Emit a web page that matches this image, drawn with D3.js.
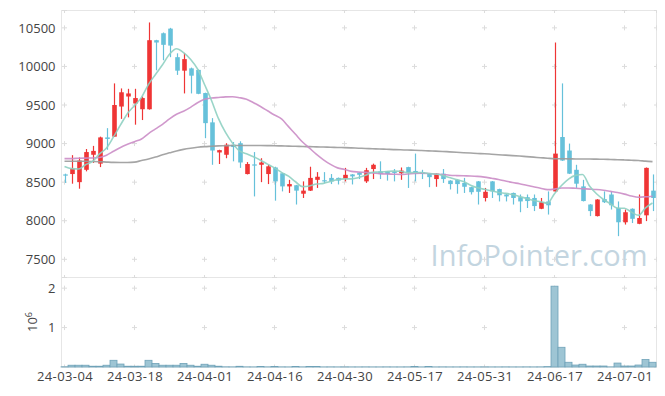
<!DOCTYPE html>
<html>
<head>
<meta charset="utf-8">
<script src="https://cdn.jsdelivr.net/npm/d3@7"></script>
<style>
  body { margin: 0; background: #fff; }
  text { font-family: "Open Sans", "Noto Sans", sans-serif; }
</style>
</head>
<body>
<div id="chart"></div>
<script>
// ==== Data (trading days 24-03-04 -> 24-07-05) ====
const dates = [
  "24-03-04","24-03-05","24-03-06","24-03-07","24-03-08","24-03-11","24-03-12","24-03-13","24-03-14","24-03-15",
  "24-03-18","24-03-19","24-03-20","24-03-21","24-03-22","24-03-25","24-03-26","24-03-27","24-03-28","24-03-29",
  "24-04-01","24-04-02","24-04-03","24-04-04","24-04-05","24-04-08","24-04-09","24-04-11","24-04-12","24-04-15",
  "24-04-16","24-04-17","24-04-18","24-04-19","24-04-22","24-04-23","24-04-24","24-04-25","24-04-26","24-04-29",
  "24-04-30","24-05-02","24-05-03","24-05-07","24-05-08","24-05-09","24-05-10","24-05-13","24-05-14","24-05-16",
  "24-05-17","24-05-20","24-05-21","24-05-22","24-05-23","24-05-24","24-05-27","24-05-28","24-05-29","24-05-30",
  "24-05-31","24-06-03","24-06-04","24-06-05","24-06-07","24-06-10","24-06-11","24-06-12","24-06-13","24-06-14",
  "24-06-17","24-06-18","24-06-19","24-06-20","24-06-21","24-06-24","24-06-25","24-06-26","24-06-27","24-06-28",
  "24-07-01","24-07-02","24-07-03","24-07-04","24-07-05"
];

const opens = [
  8600,8605,8500,8660,8855,8740,9080,9090,9480,9610,
  9520,9445,9445,10340,10430,10490,10120,9945,9975,9955,
  9655,9275,8885,8855,8985,9005,8605,8730,8725,8605,
  8690,8615,8445,8460,8350,8390,8530,8525,8555,8555,
  8545,8600,8625,8510,8670,8640,8640,8635,8615,8695,
  8645,8630,8610,8540,8610,8520,8530,8490,8435,8510,
  8295,8510,8410,8340,8360,8305,8305,8295,8155,8250,
  8380,9085,8910,8660,8445,8210,8060,8280,8340,8165,
  7980,8155,7960,8070,8390
];
const highs = [
  8610,8850,8820,8930,8970,9090,9200,9780,9715,9710,
  9710,9610,10570,10345,10440,10500,10170,10175,9985,9960,
  9660,9330,8920,9005,9020,9030,8760,8890,8810,8725,
  8700,8620,8530,8465,8510,8700,8630,8630,8605,8560,
  8685,8605,8630,8685,8740,8770,8645,8670,8690,8700,
  8870,8660,8615,8615,8670,8525,8535,8555,8440,8515,
  8425,8515,8415,8345,8365,8340,8340,8340,8295,8380,
  10310,9780,9000,8725,8530,8215,8280,8380,8380,8250,
  8145,8160,8340,8690,8600
];
const lows = [
  8490,8480,8415,8640,8750,8695,8920,9085,9320,9340,
  9245,9305,9440,9950,10080,10120,9890,9650,9650,9640,
  9070,8725,8735,8810,8770,8685,8600,8315,8500,8475,
  8260,8380,8360,8210,8295,8385,8425,8485,8475,8470,
  8510,8470,8540,8490,8540,8540,8520,8510,8530,8425,
  8510,8540,8435,8440,8490,8405,8350,8360,8340,8210,
  8250,8295,8250,8250,8210,8110,8165,8125,8150,8080,
  8370,8775,8605,8425,8250,8060,8055,8230,8145,7800,
  7950,7970,7955,7995,8125
];
const closes = [
  8590,8675,8780,8890,8905,9080,9060,9500,9665,9650,
  9590,9590,10340,10310,10280,10270,9945,10095,9880,9645,
  9265,8910,8915,8985,8955,8755,8735,8720,8755,8705,
  8510,8445,8475,8390,8390,8555,8570,8515,8510,8520,
  8595,8575,8595,8655,8725,8605,8605,8625,8650,8625,
  8620,8605,8565,8610,8540,8475,8475,8440,8370,8375,
  8375,8380,8330,8315,8295,8250,8255,8190,8240,8200,
  8870,8780,8610,8480,8255,8125,8275,8240,8200,7980,
  8110,8025,8035,8685,8295
];
const volumes = [
  5000,45000,45000,45000,20000,20000,45000,170000,75000,20000,
  20000,20000,170000,90000,45000,45000,45000,90000,45000,20000,
  70000,45000,20000,4000,3000,18000,3000,2000,15000,3000,
  15000,3000,2000,15000,3000,15000,15000,2000,3000,2000,
  3000,2000,2000,3000,2000,2000,3000,2000,2000,3000,
  15000,2000,15000,2000,3000,2000,2000,3000,2000,2000,
  3000,2000,2000,3000,2000,2000,3000,2000,3000,10000,
  2050000,500000,120000,50000,70000,25000,25000,25000,3000,100000,
  25000,25000,50000,190000,120000
];

// moving averages
const ma5 = [
  8704,8675,8670,8726,8768,8866,8943,9087,9242,9391,
  9493,9599,9767,9896,10022,10158,10229,10180,10094,9967,
  9766,9559,9323,9144,9006,8904,8869,8830,8784,8734,
  8685,8627,8578,8505,8442,8451,8476,8484,8508,8534,
  8542,8543,8559,8588,8629,8631,8637,8643,8642,8622,
  8625,8625,8613,8605,8588,8559,8533,8508,8460,8427,
  8407,8388,8366,8355,8339,8314,8289,8261,8246,8227,
  8351,8456,8540,8588,8599,8450,8349,8275,8219,8164,
  8161,8111,8070,8167,8230
];
const ma20 = [
  8805,8805,8810,8812,8813,8820,8850,8900,8950,8990,
  9025,9060,9130,9190,9250,9320,9380,9420,9470,9530,
  9575,9590,9598,9605,9607,9595,9575,9530,9480,9425,
  9370,9320,9220,9120,9020,8940,8860,8790,8730,8685,
  8665,8640,8632,8627,8620,8610,8605,8603,8600,8605,
  8612,8615,8612,8605,8600,8590,8585,8582,8580,8575,
  8565,8550,8535,8515,8495,8480,8460,8440,8420,8403,
  8410,8425,8425,8420,8415,8410,8405,8395,8380,8365,
  8345,8320,8305,8310,8318
];
const ma60 = [
  8770,8770,8770,8770,8768,8765,8760,8756,8755,8755,
  8760,8780,8800,8825,8855,8880,8905,8925,8940,8952,
  8960,8965,8970,8972,8975,8975,8975,8975,8975,8974,
  8972,8970,8967,8965,8962,8960,8957,8955,8952,8950,
  8947,8944,8940,8937,8933,8930,8926,8922,8919,8916,
  8913,8910,8906,8902,8898,8893,8888,8882,8877,8872,
  8868,8862,8856,8850,8844,8838,8831,8824,8817,8810,
  8804,8803,8802,8801,8800,8800,8798,8796,8794,8791,
  8788,8784,8780,8772,8766
];

const priceTicks = [7500, 8000, 8500, 9000, 9500, 10000, 10500];
const volTicks = [1e6, 2e6];
const dateTickIdx = [0, 10, 20, 30, 40, 50, 60, 70, 80];

// ==== Setup ====
const width = 665, height = 396;
const plotL = 61.5, plotR = 656.5;
const mainTop = 10.5, mainBot = 277.5, volBot = 367;

const upColor = "#ef3535", downColor = "#66c1da";

const svg = d3.select("#chart").append("svg")
  .attr("width", width)
  .attr("height", height);

const x = d3.scaleLinear().domain([-0.43, 84.57]).range([plotL, plotR]);
const y = d3.scaleLinear().domain([7264, 10725]).range([mainBot, mainTop]);
const yv = d3.scaleLinear().domain([0, 2.27e6]).range([volBot, mainBot]);

// frames
svg.append("rect").attr("x", plotL).attr("y", mainTop)
  .attr("width", plotR - plotL).attr("height", mainBot - mainTop)
  .attr("fill", "none").attr("stroke", "#e6e6e6");
svg.append("rect").attr("x", plotL).attr("y", mainBot)
  .attr("width", plotR - plotL).attr("height", volBot - mainBot)
  .attr("fill", "none").attr("stroke", "#e6e6e6");

// little "+" marks where grid lines would cross
function crosses(ys, top, bot) {
  const xs = dateTickIdx.map(i => x(i)).concat([plotR]);
  const g = svg.append("g").attr("stroke", "#dcdcdc").attr("stroke-width", 1);
  xs.forEach(cx => {
    ys.forEach(cy => {
      g.append("line").attr("x1", Math.max(plotL, cx - 2.5)).attr("x2", Math.min(plotR, cx + 2.5))
        .attr("y1", cy).attr("y2", cy);
      g.append("line").attr("x1", cx).attr("x2", cx)
        .attr("y1", Math.max(top, cy - 2.5)).attr("y2", Math.min(bot, cy + 2.5));
    });
  });
}
crosses([mainTop].concat(priceTicks.map(y)).concat([mainBot]), mainTop, mainBot);
crosses(volTicks.map(yv).concat([volBot]), mainBot, volBot);

// watermark, sized to the reference width
const wm = svg.append("text")
  .attr("x", 539).attr("y", 266)
  .attr("text-anchor", "middle")
  .attr("font-size", 32)
  .attr("fill", "#c3d5e0")
  .text("InfoPointer.com");
const wmLen = wm.node().getComputedTextLength();
wm.attr("font-size", (32 * 217 / wmLen).toFixed(2));

// ==== Candles ====
const bodyW = 4.6;
const candles = svg.append("g");
dates.forEach((d, i) => {
  const up = closes[i] >= opens[i];
  const col = up ? upColor : downColor;
  const cx = Math.round(x(i)) + 0.5;
  candles.append("line")
    .attr("x1", cx).attr("x2", cx)
    .attr("y1", y(highs[i])).attr("y2", y(lows[i]))
    .attr("stroke", col).attr("stroke-width", 1.2);
  const top = y(Math.max(opens[i], closes[i]));
  const bot = y(Math.min(opens[i], closes[i]));
  candles.append("rect")
    .attr("x", cx - bodyW / 2).attr("y", top)
    .attr("width", bodyW).attr("height", Math.max(1.2, bot - top))
    .attr("fill", col);
});

// ==== Moving averages ====
const maLine = d3.line().x((d, i) => x(i)).y(d => y(d)).curve(d3.curveMonotoneX);
[[ma60, "#9b9b9b"], [ma20, "#cb8dc7"], [ma5, "#8fd0c2"]].forEach(([arr, col]) => {
  svg.append("path").attr("d", maLine(arr))
    .attr("fill", "none").attr("stroke", col)
    .attr("stroke-width", 1.6).attr("stroke-opacity", 0.9);
});

// ==== Volume ====
const barW = x(1) - x(0);
svg.append("g").selectAll("rect").data(volumes).join("rect")
  .attr("x", (d, i) => x(i) - barW / 2)
  .attr("y", d => yv(d))
  .attr("width", barW)
  .attr("height", d => volBot - yv(d))
  .attr("fill", "#9ec5d4")
  .attr("stroke", "#6fa2b8")
  .attr("stroke-width", 0.8);

// ==== Axes ====
function styleAxis(g) {
  g.select(".domain").remove();
  g.selectAll("text").attr("fill", "#444").attr("font-size", 13);
}
svg.append("g").attr("transform", `translate(${plotL},0)`)
  .call(d3.axisLeft(y).tickValues(priceTicks).tickFormat(d3.format("d")).tickSize(0).tickPadding(6))
  .call(styleAxis);
svg.append("g").attr("transform", `translate(${plotL},0)`)
  .call(d3.axisLeft(yv).tickValues(volTicks).tickFormat(d => d / 1e6).tickSize(0).tickPadding(6))
  .call(styleAxis);
svg.append("g").attr("transform", `translate(0,${volBot})`)
  .call(d3.axisBottom(x).tickValues(dateTickIdx).tickFormat(i => dates[i]).tickSize(0).tickPadding(5))
  .call(styleAxis)
  .call(g => g.selectAll("text").attr("letter-spacing", 0.4));

// 10^6 exponent title
const expo = svg.append("text")
  .attr("transform", "translate(37,322) rotate(-90)")
  .attr("text-anchor", "middle")
  .attr("fill", "#444").attr("font-size", 13);
expo.append("tspan").text("10");
expo.append("tspan").attr("dy", -5).attr("font-size", 9).text("6");
</script>
</body>
</html>
